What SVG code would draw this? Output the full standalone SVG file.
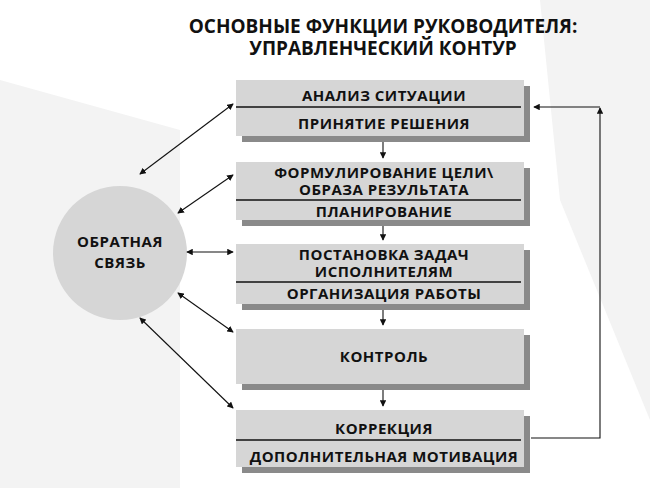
<svg xmlns="http://www.w3.org/2000/svg" width="650" height="488" viewBox="0 0 650 488">
<defs>
<style>
.t{font-family:"Open Sans","Liberation Sans",sans-serif;font-weight:bold;font-size:15px;fill:#111;text-anchor:middle;letter-spacing:0.5px}
.h{font-size:19px;letter-spacing:0}
.b{fill:#d6d6d6}.s{fill:#8a8a8a}
.l{stroke:#111;stroke-width:1.3;fill:none}
.c{stroke:#111;stroke-width:1.1;fill:none}
</style>
<marker id="a" viewBox="0 0 8 8" refX="7" refY="4" markerWidth="6" markerHeight="6" orient="auto-start-reverse"><path d="M0,0L8,4L0,8z" fill="#111"/></marker>
</defs>
<rect width="650" height="488" fill="#fff"/>
<g fill="#f3f3f3">
<polygon points="0,80 180,130 180,488 0,488"/>
<polygon points="540,0 650,0 650,420 560,200"/>
</g>
<g id="title"><text class="t h" x="383" y="33">ОСНОВНЫЕ ФУНКЦИИ РУКОВОДИТЕЛЯ:</text><text class="t h" x="383" y="55">УПРАВЛЕНЧЕСКИЙ КОНТУР</text></g>
<g id="n1"><rect class="s" x="242" y="86" width="288" height="56"/><rect class="b" x="236" y="80" width="288" height="56"/><line class="l" x1="236" y1="107" x2="521" y2="107"/><text class="t" x="384" y="101">АНАЛИЗ СИТУАЦИИ</text><text class="t" x="384" y="129">ПРИНЯТИЕ РЕШЕНИЯ</text></g>
<g id="n2"><rect class="s" x="242" y="168" width="288" height="58"/><rect class="b" x="236" y="162" width="288" height="58"/><line class="l" x1="236" y1="200" x2="521" y2="200"/><text class="t" x="384" y="178">ФОРМУЛИРОВАНИЕ ЦЕЛИ\</text><text class="t" x="384" y="195">ОБРАЗА РЕЗУЛЬТАТА</text><text class="t" x="384" y="217">ПЛАНИРОВАНИЕ</text></g>
<g id="n3"><rect class="s" x="242" y="250" width="288" height="60"/><rect class="b" x="236" y="244" width="288" height="60"/><line class="l" x1="236" y1="282" x2="521" y2="282"/><text class="t" x="384" y="260">ПОСТАНОВКА ЗАДАЧ</text><text class="t" x="384" y="277">ИСПОЛНИТЕЛЯМ</text><text class="t" x="384" y="299">ОРГАНИЗАЦИЯ РАБОТЫ</text></g>
<g id="n4"><rect class="s" x="242" y="335" width="288" height="55"/><rect class="b" x="236" y="329" width="288" height="55"/><text class="t" x="384" y="362">КОНТРОЛЬ</text></g>
<g id="n5"><rect class="s" x="242" y="416" width="288" height="57"/><rect class="b" x="236" y="410" width="288" height="57"/><line class="l" x1="236" y1="440" x2="521" y2="440"/><text class="t" x="384" y="434">КОРРЕКЦИЯ</text><text class="t" x="384" y="462">ДОПОЛНИТЕЛЬНАЯ МОТИВАЦИЯ</text></g>
<g id="n6"><circle cx="120" cy="253" r="67" fill="#d6d6d6"/><text class="t" x="120" y="247">ОБРАТНАЯ</text><text class="t" x="120" y="268">СВЯЗЬ</text></g>
<g id="connectors">
<path class="c" d="M383,142V158" marker-end="url(#a)"/>
<path class="c" d="M383,226V240" marker-end="url(#a)"/>
<path class="c" d="M383,310V325" marker-end="url(#a)"/>
<path class="c" d="M383,390V406" marker-end="url(#a)"/>
<path class="c" d="M140,174L233,104" marker-start="url(#a)" marker-end="url(#a)"/>
<path class="c" d="M178,213L233,175" marker-start="url(#a)" marker-end="url(#a)"/>
<path class="c" d="M187,252H233" marker-start="url(#a)" marker-end="url(#a)"/>
<path class="c" d="M178,293L233,332" marker-start="url(#a)" marker-end="url(#a)"/>
<path class="c" d="M140,318L233,408" marker-start="url(#a)" marker-end="url(#a)"/>
<path class="c" d="M531,438H600V108" marker-end="url(#a)"/>
<path class="c" d="M600,107H534" marker-end="url(#a)"/>
</g>
</svg>
